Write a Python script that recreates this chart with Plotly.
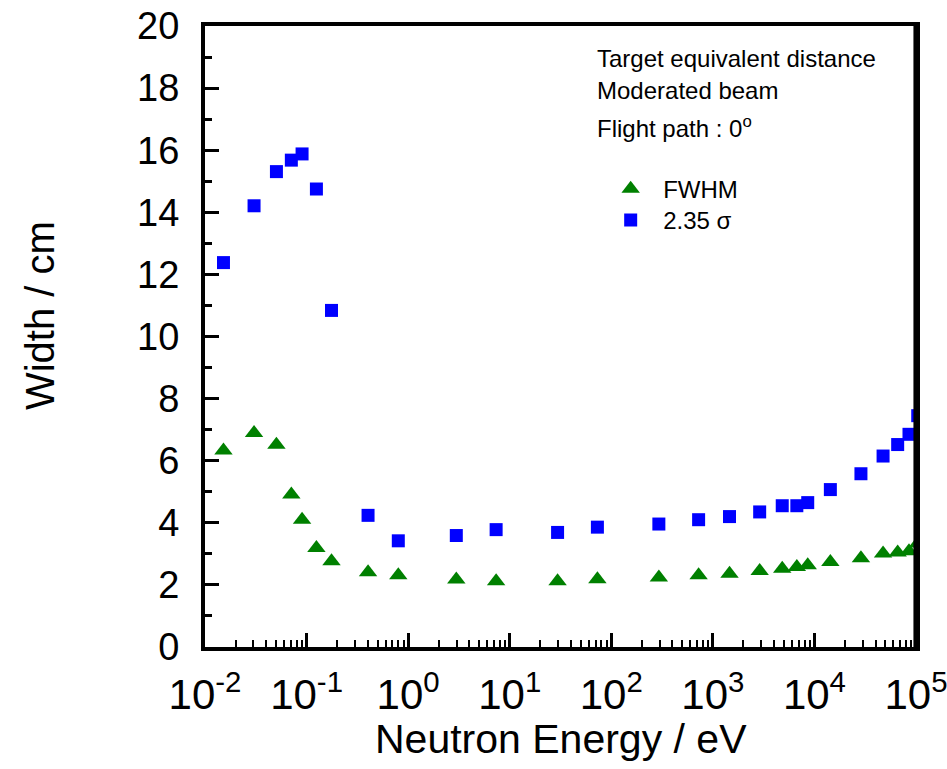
import plotly.graph_objects as go

# Neutron energy (eV) of each resolution point
energy_eV = [0.0152, 0.0304, 0.0505, 0.0708, 0.0903, 0.125, 0.176, 0.403, 0.80,
             2.98, 7.35, 29.6, 73, 294, 724, 1459, 2890, 4820, 6710, 8590,
             14350, 28700, 47400, 66000, 85300, 104000]

# Width of the resolution function (cm)
fwhm_cm = [6.33, 6.89, 6.51, 4.91, 4.10, 3.19, 2.76, 2.41, 2.31, 2.17, 2.12,
           2.12, 2.18, 2.24, 2.31, 2.36, 2.45, 2.52, 2.58, 2.63, 2.74, 2.86,
           3.01, 3.04, 3.08, 3.33]
sigma235_cm = [12.38, 14.21, 15.31, 15.68, 15.88, 14.75, 10.84, 4.24, 3.42,
               3.59, 3.78, 3.69, 3.86, 3.96, 4.10, 4.20, 4.35, 4.55, 4.55,
               4.65, 5.07, 5.58, 6.15, 6.52, 6.85, 7.45]

# Decade ticks of the energy axis and their labels
x_major = [1e-2, 1e-1, 1e0, 1e1, 1e2, 1e3, 1e4, 1e5]
x_labels = ["10<sup>-2</sup>", "10<sup>-1</sup>", "10<sup>0</sup>",
            "10<sup>1</sup>", "10<sup>2</sup>", "10<sup>3</sup>",
            "10<sup>4</sup>", "10<sup>5</sup>"]
x_minor = [m * 10.0 ** e for e in range(-2, 5) for m in range(2, 10)]

info_lines = ["Target equivalent distance", "Moderated beam",
              "Flight path : 0<sup>o</sup>"]

FONT = "Liberation Sans, Arial, sans-serif"

fig = go.Figure()
fig.add_trace(go.Scatter(
    x=energy_eV, y=fwhm_cm, mode="markers", name="FWHM", legend="legend",
    marker=dict(symbol="triangle-up", size=16, color="#008000"),
))
fig.add_trace(go.Scatter(
    x=energy_eV, y=sigma235_cm, mode="markers", name="2.35 \u03c3",
    legend="legend2",
    marker=dict(symbol="square", size=13, color="#0000FF"),
))

axis_common = dict(
    showline=True, linecolor="black", linewidth=4, mirror=True,
    ticks="inside", tickcolor="black", tickwidth=3, ticklen=14,
    showgrid=False, zeroline=False, automargin=False,
)

fig.update_xaxes(
    type="log", range=[-2, 5],
    tickmode="array", tickvals=x_major, ticktext=x_labels, tickangle=0,
    tickfont=dict(family=FONT, size=42, color="black"),
    ticklabelstandoff=8, ticklabeloverflow="allow",
    minor=dict(tickmode="array", tickvals=x_minor, ticks="inside",
               ticklen=7, tickwidth=2, tickcolor="black", showgrid=False),
    **axis_common,
)
fig.update_yaxes(
    range=[0, 20], dtick=2,
    tickfont=dict(family=FONT, size=38, color="black"),
    ticklabelstandoff=14,
    minor=dict(ticks="inside", ticklen=7, tickwidth=3, tickcolor="black",
               dtick=1, showgrid=False),
    **axis_common,
)

# Right-hand border of the frame: two adjacent 3 px strokes
for xp in (0.9985, 1.0015):
    fig.add_shape(type="line", xref="paper", yref="paper", x0=xp, x1=xp,
                  y0=-0.003, y1=1.003,
                  line=dict(color="black", width=3), layer="above")

annotations = [
    dict(text="Width / cm", textangle=-90, xref="paper", yref="paper",
         x=-0.232, y=0.533, xanchor="center", yanchor="middle",
         showarrow=False, font=dict(family=FONT, size=40, color="black")),
    dict(text="Neutron Energy / eV", xref="paper", yref="paper",
         x=0.5, y=-0.148, xanchor="center", yanchor="middle",
         showarrow=False, font=dict(family=FONT, size=41, color="black")),
]
info_y = [0.947, 0.896, 0.838]
for line, yy in zip(info_lines, info_y):
    annotations.append(dict(
        text=line, xref="paper", yref="paper",
        x=0.548, y=yy, xanchor="left", yanchor="middle",
        showarrow=False, font=dict(family=FONT, size=24, color="black"),
    ))

legend_style = dict(xanchor="left", yanchor="top", itemwidth=55,
                    font=dict(family=FONT, size=24, color="black"),
                    bgcolor="rgba(0,0,0,0)")

fig.update_layout(
    width=947, height=769,
    margin=dict(l=205, r=31, t=26, b=122),
    paper_bgcolor="white", plot_bgcolor="white",
    showlegend=True,
    legend=dict(x=0.553, y=0.7734, **legend_style),
    legend2=dict(x=0.553, y=0.723, **legend_style),
    annotations=annotations,
)

fig.write_html("out.html")
